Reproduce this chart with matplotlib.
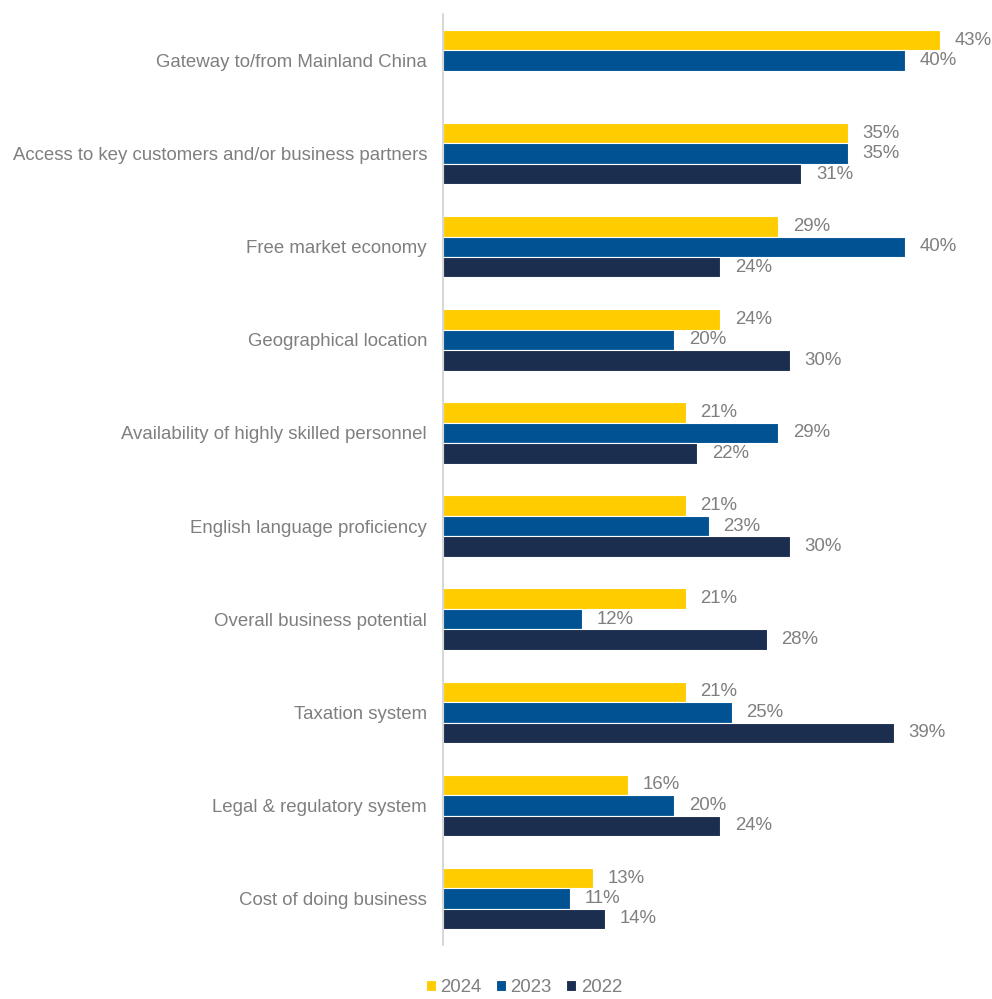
import numpy as np
import matplotlib
matplotlib.use("Agg")
from matplotlib import pyplot as plt

# survey data, percent of respondents
categories = [
    "Gateway to/from Mainland China",
    "Access to key customers and/or business partners",
    "Free market economy",
    "Geographical location",
    "Availability of highly skilled personnel",
    "English language proficiency",
    "Overall business potential",
    "Taxation system",
    "Legal & regulatory system",
    "Cost of doing business",
]
y2024 = [43, 35, 29, 24, 21, 21, 21, 21, 16, 13]
y2023 = [40, 35, 40, 20, 29, 23, 12, 25, 20, 11]
y2022 = [None, 31, 24, 30, 22, 30, 28, 39, 24, 14]
years = ["2024", "2023", "2022"]
colors = ["#FFCC00", "#005293", "#1B2E4F"]

plt.rcParams["font.family"] = ["Liberation Sans", "DejaVu Sans"]
grey = "#7F7F7F"
fs = 13.4

fig = plt.figure(figsize=(9.92, 9.99), dpi=100)
ax = fig.add_axes([0.4466, 0.054, 0.5477, 0.932])

pos = np.arange(len(categories))
h = 0.22
series = [y2024, y2023, y2022]
for k, (vals, col, yr) in enumerate(zip(series, colors, years)):
    idx = [i for i, v in enumerate(vals) if v is not None]
    v = [vals[i] for i in idx]
    yy = pos[idx] + (k - 1) * h
    ax.barh(yy, v, height=h, color=col, edgecolor="white", linewidth=0.8, label=yr)
    for yv, val in zip(yy, v):
        ax.text(val + 1.25, yv, f"{val}%", va="center", ha="left",
                fontsize=fs, color=grey)

ax.set_ylim(len(categories) - 0.5, -0.5)
ax.set_xlim(0, 47)
ax.set_yticks(pos)
ax.set_yticklabels(categories, fontsize=fs, color=grey)
ax.tick_params(axis="y", length=0, pad=11.5)
ax.set_xticks([])
for s in ["top", "right", "bottom"]:
    ax.spines[s].set_visible(False)
ax.spines["left"].set_color("#D0D0D0")
ax.spines["left"].set_linewidth(1.2)

leg = fig.legend(loc="lower center", bbox_to_anchor=(0.528, -0.014), ncol=3,
                 frameon=False, fontsize=fs, handlelength=0.55, handleheight=0.55,
                 handletextpad=0.25, columnspacing=0.75)
for t in leg.get_texts():
    t.set_color(grey)

fig.savefig("out.png", dpi=100)
